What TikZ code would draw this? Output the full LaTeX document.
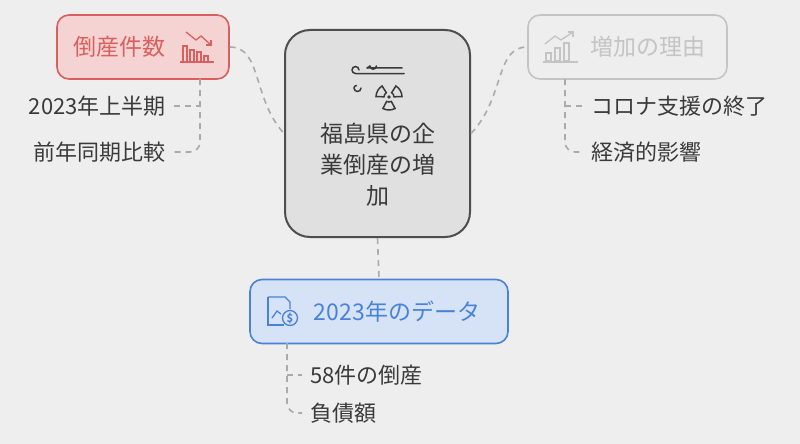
\documentclass[tikz,border=0pt]{standalone}
\usepackage{fontspec}
\setmainfont{Noto Sans CJK JP}
\definecolor{bg}{HTML}{EEEEEE}
\definecolor{redf}{HTML}{F5D3D3}
\definecolor{redd}{HTML}{D9605F}
\definecolor{bluef}{HTML}{D6E3F6}
\definecolor{blued}{HTML}{4A82D9}
\definecolor{greyd}{HTML}{C4C4C4}
\definecolor{txt}{HTML}{3A3A3A}
\definecolor{conn}{HTML}{AAAAAA}
\tikzset{
  x=1pt,y=-1pt,
  lbl/.style={font=\fontsize{22}{26}\selectfont,text=txt,inner sep=0},
  conn/.style={draw=conn,line width=1.6pt,dash pattern=on 6pt off 5pt},
  topic/.style={rounded corners=12pt,line width=1.6pt,minimum height=64pt,inner sep=0},
  ttext/.style={font=\fontsize{23}{26}\selectfont,inner sep=0},
}
\begin{document}
\begin{tikzpicture}
\fill[bg] (0,0) rectangle (800,444);
\useasboundingbox (0,0) rectangle (800,444);
% center
\node[draw=txt!90,fill=black!12,line width=2pt,rounded corners=25pt,minimum width=185pt,minimum height=207pt,inner sep=0] (c) at (377.5,133.5) {};
\node[align=center,font=\fontsize{23}{31}\selectfont,text=txt] (ct) at (377.5,165) {福島県の企\\業倒産の増\\加};
% icon
\begin{scope}[draw=txt,line width=1.5pt,line cap=round]
\draw (370,66) arc[start angle=180,end angle=0,radius=3.2] (367,68) -- (402,68);
\draw (367,68) -- (370,66);
\draw (359,70) arc[start angle=0,end angle=-270,radius=3.5] -- (404,73.5);
\draw (361,88) arc[start angle=0,end angle=180,radius=3.5] arc[start angle=180,end angle=270,radius=2.5];
\foreach \a in {-30,-150,90}
  \draw (389,97) ++(\a-28:5) arc[start angle=\a-28,end angle=\a+28,radius=5] -- ++(\a+28:8) arc[start angle=\a+28,end angle=\a-28,radius=13] -- cycle;
\fill[txt] (389,97) circle (1.8);
\end{scope}
% red
\node[topic,draw=redd,fill=redf,minimum width=172pt] (r) at (143,47) {};
\node[ttext,text=redd] (rt) at (119,47) {倒産件数};
\begin{scope}[draw=redd,line width=1.3pt]
\draw (180,62) -- (214,62);
\foreach \x/\h in {183/16,190/12,197/10,204/6} \draw (\x,62) rectangle (\x+4,62-\h);
\draw (186,32) -- (196,40) -- (201,36) -- (211,45);
\draw (206,45) -- (211,45) -- (211,40);
\end{scope}
% grey
\node[topic,draw=greyd,fill=bg,minimum width=199pt] (g) at (627.5,47) {};
\node[ttext,text=greyd] (gt) at (648,47) {増加の理由};
\begin{scope}[draw=greyd,line width=1.3pt]
\draw (543,62) -- (578,62);
\foreach \x/\h in {546/8,555/13,564/18} \draw (\x,61) rectangle (\x+5,61-\h);
\draw (545,44) -- (555,36) -- (561,40) -- (573,32);
\draw (568,32) -- (573,32) -- (573,37);
\end{scope}
% blue
\node[topic,draw=blued,fill=bluef,minimum width=258pt] (b) at (379,311.5) {};
\node[ttext,text=blued] (bt) at (397,311.5) {2023年のデータ};
\begin{scope}[draw=blued,line width=1.3pt]
\draw (268,297) -- (268,325) -- (284,325);
\draw (268,297) -- (285,297) -- (290,302) -- (290,309);
\draw (272,318) -- (277,311) -- (281,314);
\draw[fill=bluef] (290,318) circle (7.5);
\node[text=blued,font=\fontsize{11}{11}\selectfont\bfseries,inner sep=0] at (290,318) {\$};
\end{scope}
% leaf labels
\node[lbl,anchor=east] (l1) at (166,106) {2023年上半期};
\node[lbl,anchor=east] (l2) at (166,152) {前年同期比較};
\node[lbl,anchor=west] (r1) at (591,106) {コロナ支援の終了};
\node[lbl,anchor=west] (r2) at (591,152) {経済的影響};
\node[lbl,anchor=west] (b1) at (310,375) {58件の倒産};
\node[lbl,anchor=west] (b2) at (310,413) {負債額};
% connectors
\draw[conn] (r.east) .. controls (262,47) and (252,98) .. (c.west);
\draw[conn] (c.east) .. controls (505,98) and (495,47) .. (g.west);
\draw[conn] (c.south) -- (b.north);
\draw[conn] (200,79) -- (200,142) arc[start angle=0,end angle=90,radius=10] -- ([xshift=8pt]l2.east);
\draw[conn] ([xshift=8pt]l1.east) -- (200,106);
\draw[conn] (565,79) -- (565,142) arc[start angle=180,end angle=90,radius=10] -- ([xshift=-8pt]r2.west);
\draw[conn] (565,106) -- ([xshift=-8pt]r1.west);
\draw[conn] (287,343) -- (287,403) arc[start angle=180,end angle=90,radius=10] -- ([xshift=-8pt]b2.west);
\draw[conn] (287,375) -- ([xshift=-8pt]b1.west);
\end{tikzpicture}
\end{document}
